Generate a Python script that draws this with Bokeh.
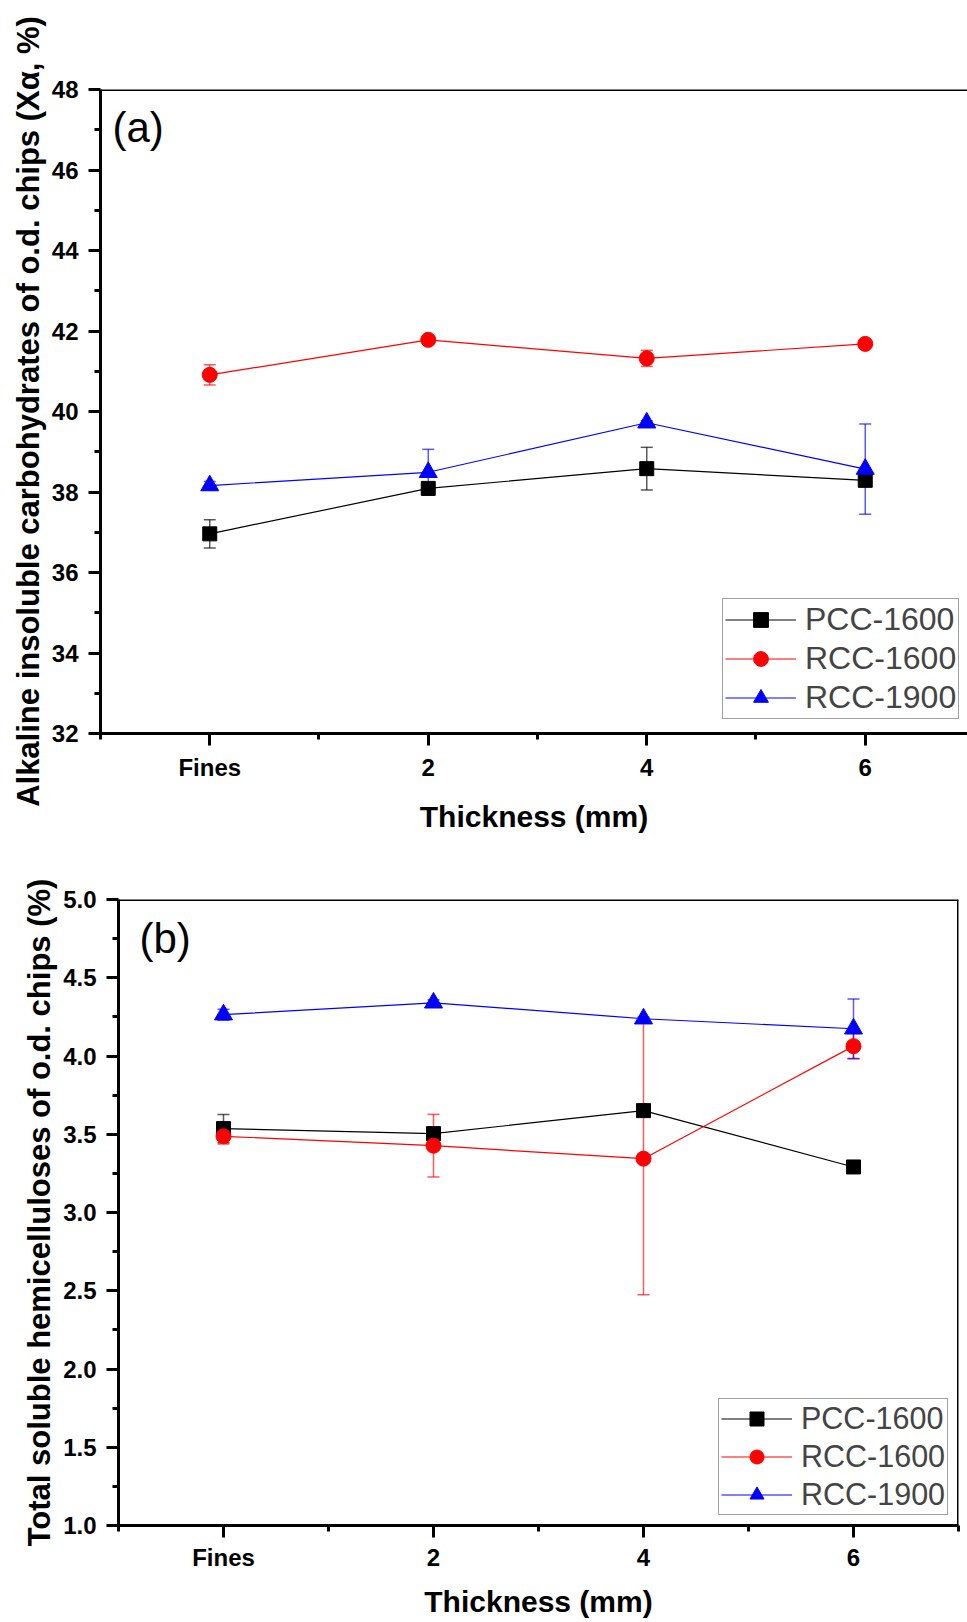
from bokeh.plotting import figure
from bokeh.models import (FixedTicker, Whisker, ColumnDataSource, Legend, LegendItem,
                          Label, TeeHead, Range1d, Span, PrintfTickFormatter)
from bokeh.embed import file_html
from bokeh.resources import INLINE

# ---------------- data ----------------
x_pos = [0, 2, 4, 6]
x_labels = ["Fines", "2", "4", "6"]
x_minor = [-1, 1, 3, 5, 7]
series_names = ["PCC-1600", "RCC-1600", "RCC-1900"]

# panel (a): alkaline insoluble carbohydrates (%)
a_pcc = [36.96, 38.09, 38.58, 38.29]
a_pcc_err = [0.35, 0.10, 0.53, 0.15]
a_rcc16 = [40.91, 41.78, 41.32, 41.68]
a_rcc16_err = [0.25, 0.05, 0.20, 0.05]
a_rcc19 = [38.16, 38.49, 39.72, 38.57]
a_rcc19_err = [0.10, 0.57, 0.05, 1.12]
a_yticks = [32, 34, 36, 38, 40, 42, 44, 46, 48]
a_yminor = [33, 35, 37, 39, 41, 43, 45, 47]

# panel (b): total soluble hemicelluloses (%)
b_pcc = [3.536, 3.504, 3.651, 3.291]
b_pcc_err = [0.09, 0.02, 0.02, 0.02]
b_rcc16 = [3.487, 3.427, 3.344, 4.063]
b_rcc16_err = [0.05, 0.20, 0.87, 0.08]
b_rcc19 = [4.264, 4.340, 4.238, 4.174]
b_rcc19_err = [0.035, 0.02, 0.01, 0.19]
b_yticks = [1.0, 1.5, 2.0, 2.5, 3.0, 3.5, 4.0, 4.5, 5.0]
b_yminor = [1.25, 1.75, 2.25, 2.75, 3.25, 3.75, 4.25, 4.75]

colors = ["#000000", "#ff0000", "#0000ff"]
markers = ["square", "circle", "triangle"]
msizes = [14, 15, 18]

FONT = "Liberation Sans"


def build(values, errs, yticks, yminor, y_range, x_end, ylabel, tag, tag_xy,
          width, height, mb_left, mb_top, mb_right, mb_bottom, legend_loc, fmt,
          xl_standoff, xlab_standoff, leg_font, leg_gh, leg_sp):
    p = figure(width=width, height=height, output_backend="svg", toolbar_location=None,
               x_range=Range1d(-1, x_end), y_range=Range1d(*y_range),
               min_border_left=mb_left, min_border_top=mb_top,
               min_border_right=mb_right, min_border_bottom=mb_bottom)
    p.outline_line_color = None
    p.grid.visible = False
    p.background_fill_color = "white"
    p.border_fill_color = "white"

    lines, scats = [], []
    for vals, c in zip(values, colors):
        lines.append(p.line(x_pos, vals, line_color=c, line_width=1.2))
    for vals, c, m, s in zip(values, colors, markers, msizes):
        scats.append(p.scatter(x_pos, vals, marker=m, size=s, fill_color=c, line_color=c))
    for vals, err, c in zip(values, errs, colors):
        src = ColumnDataSource(dict(x=x_pos,
                                    lo=[v - e for v, e in zip(vals, err)],
                                    hi=[v + e for v, e in zip(vals, err)]))
        w = Whisker(base="x", lower="lo", upper="hi", source=src,
                    line_color=c, line_alpha=0.65, line_width=1.5,
                    upper_head=TeeHead(size=12, line_color=c, line_alpha=0.65, line_width=1.5),
                    lower_head=TeeHead(size=12, line_color=c, line_alpha=0.65, line_width=1.5))
        p.add_layout(w)

    # axes
    p.xaxis.ticker = FixedTicker(ticks=x_pos, minor_ticks=x_minor)
    p.xaxis.major_label_overrides = {k: v for k, v in zip(x_pos, x_labels)}
    p.yaxis.ticker = FixedTicker(ticks=yticks, minor_ticks=yminor)
    if fmt:
        p.yaxis.formatter = PrintfTickFormatter(format=fmt)
    for ax in (p.xaxis, p.yaxis):
        ax.axis_line_width = 3
        ax.axis_line_color = "black"
        ax.major_tick_line_width = 3
        ax.minor_tick_line_width = 3
        ax.major_tick_in = 0
        ax.major_tick_out = 12
        ax.minor_tick_in = 0
        ax.minor_tick_out = 6
        ax.major_label_text_font = FONT
        ax.major_label_text_font_style = "bold"
        ax.major_label_text_font_size = "24px"
        ax.major_label_text_color = "black"
        ax.axis_label_text_font = FONT
        ax.axis_label_text_font_style = "bold"
        ax.axis_label_text_color = "black"
    p.xaxis.major_label_standoff = xl_standoff
    p.yaxis.major_label_standoff = 10
    p.xaxis.axis_label = "Thickness (mm)"
    p.xaxis.axis_label_text_font_size = "30px"
    p.xaxis.axis_label_standoff = xlab_standoff
    p.yaxis.axis_label = ylabel
    p.yaxis.axis_label_text_font_size = "31px"
    p.yaxis.axis_label_standoff = 3

    # frame top border (and right where visible)
    p.add_layout(Span(location=y_range[1], dimension="width", line_color="black", line_width=3))
    if x_end >= 7:
        p.add_layout(Span(location=x_end, dimension="height", line_color="black", line_width=3))

    items = [LegendItem(label=n, renderers=[l, s]) for n, l, s in zip(series_names, lines, scats)]
    leg = Legend(items=items, location=legend_loc, glyph_width=71, glyph_height=leg_gh,
                 label_standoff=9, padding=2, spacing=leg_sp, margin=0,
                 label_text_font=FONT, label_text_font_size=leg_font,
                 border_line_color="#444444", border_line_width=1.5,
                 background_fill_color="white", background_fill_alpha=1.0)
    p.add_layout(leg)

    p.add_layout(Label(x=tag_xy[0], y=tag_xy[1], text=tag, text_font=FONT,
                       text_font_size="42px", text_baseline="top", text_color="black"))
    return p


p1 = build([a_pcc, a_rcc16, a_rcc19], [a_pcc_err, a_rcc16_err, a_rcc19_err],
           a_yticks, a_yminor, (32, 48), 6.936,
           "Alkaline insoluble carbohydrates of o.d. chips (X\u03b1, %)", "(a)", (-0.89, 47.65),
           967, 848, 100, 89, 0, 115, (622, 14), None, 8, 16, "32px", 37, 2)

p2 = build([b_pcc, b_rcc16, b_rcc19], [b_pcc_err, b_rcc16_err, b_rcc19_err],
           b_yticks, b_yminor, (1.0, 5.0), 7.0,
           "Total soluble hemicelluloses of o.d. chips (%)", "(b)", (-0.80, 4.903),
           967, 774, 118, 51, 9, 97, (600, 10), "%.1f", 6, 11, "30.5px", 35, 3)

open("out.html", "w").write(file_html([p1, p2], INLINE))
